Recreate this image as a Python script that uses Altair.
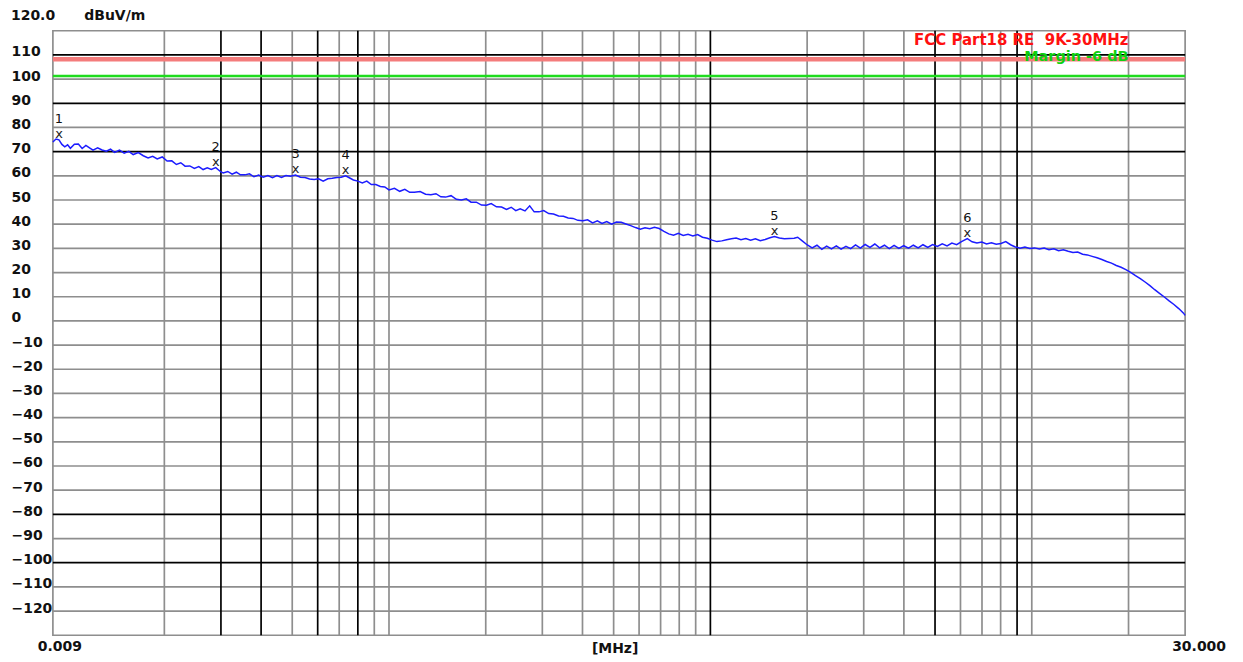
import altair as alt
import pandas as pd

# ---------------- data ----------------
freq_mhz = [
    0.0090, 0.0092, 0.0094, 0.0096, 0.0098, 0.0100, 0.0102, 0.0105, 0.0108, 0.0111,
    0.0114, 0.0117, 0.0120, 0.0124, 0.0128, 0.0132, 0.0136, 0.0140, 0.0145, 0.0150,
    0.0155, 0.0160, 0.0166, 0.0172, 0.0178, 0.0184, 0.0190, 0.0197, 0.0204, 0.0211,
    0.0218, 0.0225, 0.0232, 0.0240, 0.0248, 0.0256, 0.0264, 0.0272, 0.0280, 0.0289,
    0.0295, 0.0300, 0.0305, 0.0315, 0.0325, 0.0335, 0.0345, 0.0356, 0.0368, 0.0380,
    0.0393, 0.0406, 0.0420, 0.0434, 0.0448, 0.0463, 0.0478, 0.0494, 0.0512, 0.0530,
    0.0548, 0.0566, 0.0585, 0.0604, 0.0624, 0.0645, 0.0666, 0.0688, 0.0710, 0.0733,
    0.0755, 0.0775, 0.0800, 0.0826, 0.0853, 0.0881, 0.0910, 0.0940, 0.0970, 0.1000,
    0.1040, 0.1080, 0.1120, 0.1160, 0.1200, 0.1250, 0.1300, 0.1350, 0.1400, 0.1450,
    0.1500, 0.1560, 0.1620, 0.1680, 0.1740, 0.1800, 0.1870, 0.1940, 0.2010, 0.2080,
    0.2160, 0.2240, 0.2320, 0.2400, 0.2480, 0.2560, 0.2650, 0.2740, 0.2830, 0.2930,
    0.3030, 0.3140, 0.3250, 0.3370, 0.3490, 0.3610, 0.3740, 0.3870, 0.4010, 0.4150,
    0.4300, 0.4450, 0.4600, 0.4760, 0.4930, 0.5100, 0.5280, 0.5460, 0.5650, 0.5850,
    0.6050, 0.6260, 0.6480, 0.6700, 0.6930, 0.7170, 0.7420, 0.7680, 0.7950, 0.8230,
    0.8520, 0.8820, 0.9130, 0.9450, 0.9780, 1.012, 1.048, 1.085, 1.123, 1.162,
    1.203, 1.245, 1.289, 1.334, 1.381, 1.430, 1.480, 1.532, 1.583, 1.640,
    1.700, 1.760, 1.822, 1.869, 1.935, 2.003, 2.073, 2.146, 2.222, 2.300,
    2.381, 2.465, 2.551, 2.641, 2.733, 2.829, 2.929, 3.031, 3.138, 3.248,
    3.362, 3.480, 3.602, 3.729, 3.860, 3.995, 4.135, 4.280, 4.431, 4.586,
    4.747, 4.914, 5.086, 5.265, 5.450, 5.641, 5.839, 6.044, 6.300, 6.520,
    6.750, 6.990, 7.230, 7.490, 7.750, 8.020, 8.300, 8.590, 8.890, 9.200,
    9.520, 9.860, 10.20, 10.56, 10.93, 11.31, 11.71, 12.12, 12.54, 12.98,
    13.43, 13.90, 14.39, 14.89, 15.41, 15.96, 16.52, 17.10, 17.70, 18.32,
    18.96, 19.62, 20.31, 21.02, 21.76, 22.52, 23.31, 24.13, 24.97, 25.85,
    26.75, 27.69, 28.66, 29.66, 30.00,
]
level_dbuv = [
    74.0, 75.2, 74.9, 73.0, 72.0, 72.8, 71.4, 73.1, 73.2, 71.3,
    72.6, 71.6, 70.6, 71.6, 70.7, 70.2, 71.0, 69.7, 70.6, 69.4,
    70.1, 68.8, 69.6, 68.3, 67.4, 68.1, 67.0, 67.8, 66.1, 66.2,
    64.7, 65.4, 64.0, 64.1, 63.1, 63.8, 62.6, 63.3, 62.6, 63.4,
    62.4, 61.6, 61.2, 61.8, 60.7, 61.5, 60.4, 60.4, 60.8, 59.6,
    60.3, 59.4, 60.1, 59.2, 60.1, 59.3, 60.1, 59.8, 60.3, 59.4,
    59.3, 58.7, 58.5, 58.8, 57.8, 58.8, 59.0, 59.3, 59.4, 60.0,
    59.1, 58.3, 57.8, 57.1, 57.8, 56.4, 56.4, 55.6, 55.4, 54.2,
    54.8, 53.6, 54.4, 53.2, 53.2, 53.5, 52.4, 52.2, 52.6, 51.3,
    51.2, 51.8, 50.3, 50.0, 50.5, 49.1, 49.1, 47.9, 47.8, 48.5,
    47.2, 47.1, 46.1, 47.0, 45.6, 46.4, 45.5, 47.6, 45.1, 45.1,
    45.6, 44.4, 44.2, 43.4, 43.3, 42.6, 42.4, 41.6, 41.4, 41.8,
    40.5, 41.4, 40.3, 41.1, 40.0, 40.9, 40.8, 40.1, 39.4, 38.6,
    37.9, 38.5, 38.1, 38.7, 38.2, 37.0, 36.0, 35.4, 36.2, 35.3,
    35.8, 35.1, 35.7, 34.6, 34.2, 33.4, 32.8, 33.1, 33.6, 34.0,
    34.3, 33.6, 34.1, 33.4, 34.0, 33.2, 33.7, 34.4, 34.9, 34.3,
    34.0, 34.1, 34.2, 34.6, 33.0, 31.4, 30.2, 31.3, 29.6, 30.9,
    29.8, 31.0, 29.7, 30.8, 29.9, 31.4, 30.1, 31.6, 30.4, 31.8,
    30.2, 31.3, 29.9, 31.2, 30.0, 31.1, 30.1, 31.3, 30.2, 31.5,
    30.4, 31.6, 30.8, 31.9, 31.0, 32.2, 31.5, 32.8, 34.0, 32.7,
    32.2, 32.6, 31.8, 32.3, 31.7, 32.0, 32.8, 31.5, 30.6, 30.1,
    30.6, 30.0, 30.2, 29.7, 30.1, 29.4, 29.8, 29.0, 29.4, 28.8,
    28.3, 28.5, 27.6, 27.3, 26.7, 26.1, 25.4, 24.6, 23.9, 22.9,
    22.2, 21.2, 20.1, 18.7, 17.5, 16.1, 14.6, 12.9, 11.4, 9.9,
    8.3, 6.8, 5.1, 3.2, 2.3,
]

marker_ids = ["1", "2", "3", "4", "5", "6"]
marker_freq = [0.0094, 0.0289, 0.0512, 0.0733, 1.583, 6.300]
marker_level = [74.9, 63.4, 60.3, 60.0, 34.9, 34.0]

limit_level = [108.2]
margin_level = [101.3]

# grid lines (frequency in MHz / level in dBuV/m)
vgrid_dark = [0.03, 0.04, 0.06, 0.08, 1.0, 5.0, 9.0]
vgrid_light = [0.02, 0.05, 0.07, 0.09, 0.1, 0.2, 0.3, 0.4, 0.5, 0.6, 0.7, 0.8,
               0.9, 2.0, 3.0, 4.0, 6.0, 7.0, 8.0, 10.0, 20.0]
hgrid_dark = [110, 90, 70, -80, -100]
hgrid_light = [100, 80, 60, 50, 40, 30, 20, 10, 0, -10, -20, -30, -40, -50,
               -60, -70, -90, -110, -120]
y_tick_values = list(range(-120, 111, 10))

x_end_labels = ["0.009", "30.000"]
x_end_values = [0.009, 30.0]
legend_texts = ["FCC Part18 RE \u00a09K-30MHz", "Margin -6 dB"]
legend_levels = [116.2, 109.3]

# ---------------- chart ----------------
FONT = "DejaVu Sans"
W, H = 1135, 606

xscale = alt.Scale(type="log", domain=[0.009, 30], nice=False)
yscale = alt.Scale(domain=[-130, 120], nice=False, zero=False)

yaxis = alt.Axis(
    values=y_tick_values, ticks=False, tickSize=0, domain=False, grid=False,
    labelAlign="left", labelPadding=42, labelOffset=-3, labelBaseline="middle",
    labelFont=FONT, labelFontWeight="bold", labelFontSize=14, labelColor="#111111",
    title="dBuV/m", titleAngle=0, titleX=31, titleY=-15, titleAlign="left",
    titleBaseline="middle", titleFont=FONT, titleFontSize=14, titleFontWeight="bold",
    titleColor="#111111",
)


def X(field="freq"):
    return alt.X(f"{field}:Q", scale=xscale, axis=None)


def Y(field="level"):
    return alt.Y(f"{field}:Q", scale=yscale, axis=yaxis)


hl = alt.Chart(pd.DataFrame({"level": hgrid_light})).mark_rule(
    color="#8e8e8e", strokeWidth=1.7).encode(y=Y())
hd = alt.Chart(pd.DataFrame({"level": hgrid_dark})).mark_rule(
    color="#000000", strokeWidth=1.7).encode(y=Y())
vl = alt.Chart(pd.DataFrame({"freq": vgrid_light})).mark_rule(
    color="#8e8e8e", strokeWidth=1.7).encode(x=X())
vd = alt.Chart(pd.DataFrame({"freq": vgrid_dark})).mark_rule(
    color="#000000", strokeWidth=1.7).encode(x=X())

limit = alt.Chart(pd.DataFrame({"level": limit_level})).mark_rule(
    color="#f47c7c", strokeWidth=4.5).encode(y=Y())
margin = alt.Chart(pd.DataFrame({"level": margin_level})).mark_rule(
    color="#1fdc1f", strokeWidth=2.5).encode(y=Y())

trace = alt.Chart(pd.DataFrame({"freq": freq_mhz, "level": level_dbuv})).mark_line(
    color="#1c1cff", strokeWidth=1.5).encode(x=X(), y=Y())

mdf = pd.DataFrame({"freq": marker_freq, "level": marker_level, "id": marker_ids})
mx = alt.Chart(mdf).mark_text(
    text="x", font=FONT, fontSize=13, color="#222222",
    dy=-6, baseline="middle").encode(x=X(), y=Y())
mnum = alt.Chart(mdf).mark_text(
    font=FONT, fontSize=13, color="#111111", dy=-21, baseline="middle").encode(
    x=X(), y=Y(), text="id:N")

top_label = alt.Chart(pd.DataFrame({"level": [120], "t": ["120.0"]})).mark_text(
    font=FONT, fontSize=14, fontWeight="bold", color="#111111", align="left",
    baseline="middle", dy=-15).encode(x=alt.value(-42), y=Y(), text="t:N")

xlab0 = alt.Chart(pd.DataFrame({"freq": x_end_values[:1], "level": [-130],
                                "t": x_end_labels[:1]})).mark_text(
    font=FONT, fontSize=14, fontWeight="bold", color="#111111", align="center",
    baseline="middle", dx=7, dy=12).encode(x=X(), y=Y(), text="t:N")
xlab1 = alt.Chart(pd.DataFrame({"freq": x_end_values[1:], "level": [-130],
                                "t": x_end_labels[1:]})).mark_text(
    font=FONT, fontSize=14, fontWeight="bold", color="#111111", align="center",
    baseline="middle", dx=14, dy=12).encode(x=X(), y=Y(), text="t:N")
xunit = alt.Chart(pd.DataFrame({"freq": [0.52], "level": [-130],
                                "t": ["[MHz]"]})).mark_text(
    font=FONT, fontSize=14, fontWeight="bold", color="#111111", align="center",
    baseline="middle", dx=-4, dy=14).encode(x=X(), y=Y(), text="t:N")

leg1 = alt.Chart(pd.DataFrame({"freq": [20.0], "level": legend_levels[:1],
                               "t": legend_texts[:1]})).mark_text(
    font=FONT, fontSize=15, fontWeight="bold", color="#ff1010", align="right",
    baseline="middle").encode(x=X(), y=Y(), text="t:N")
leg2 = alt.Chart(pd.DataFrame({"freq": [20.0], "level": legend_levels[1:],
                               "t": legend_texts[1:]})).mark_text(
    font=FONT, fontSize=14.5, fontWeight="bold", color="#10d010", align="right",
    baseline="middle").encode(x=X(), y=Y(), text="t:N")

chart = alt.layer(
    hl, vl, hd, vd, limit, margin, trace, mx, mnum,
    top_label, xlab0, xlab1, xunit, leg1, leg2,
).properties(
    width=W, height=H,
    autosize=alt.AutoSizeParams(type="none"),
    padding={"left": 45, "top": 22, "right": 50, "bottom": 24},
    background="white",
).configure_view(stroke="#8e8e8e", strokeWidth=1.7)

chart.save("out.html", embed_options={"renderer": "svg", "actions": False})
